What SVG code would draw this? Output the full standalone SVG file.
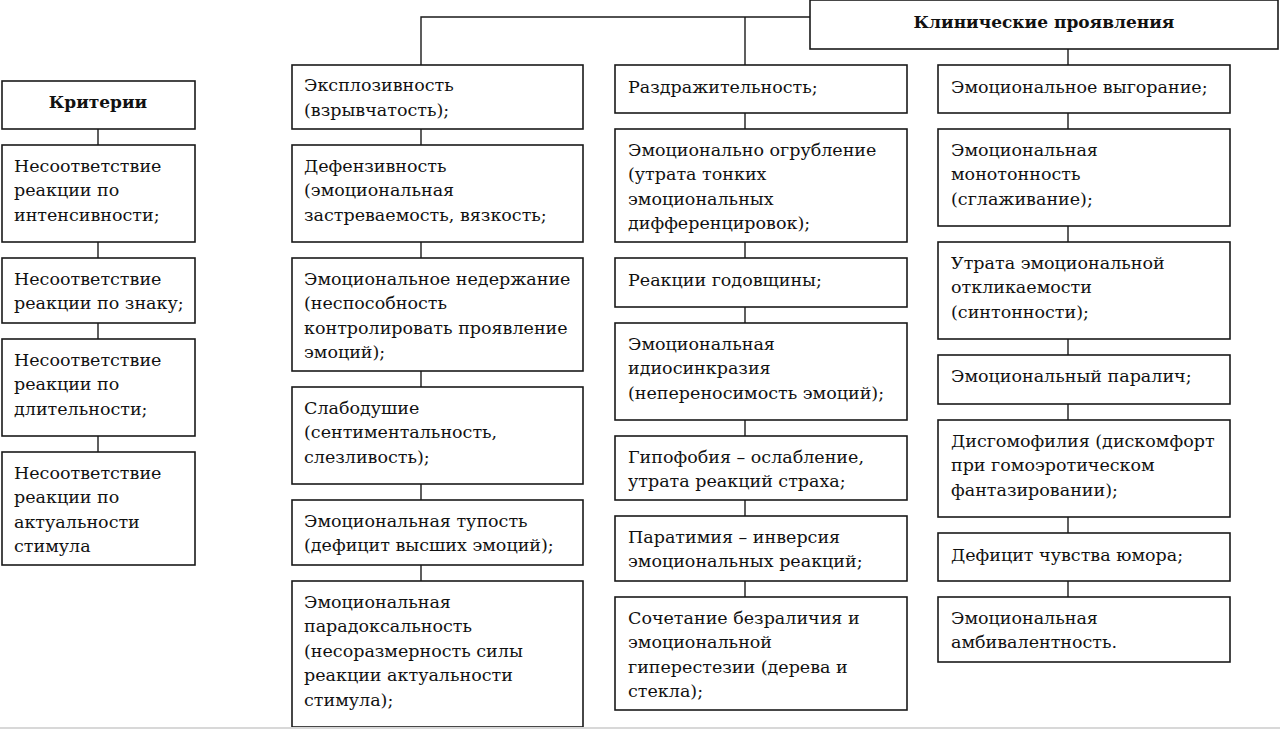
<svg xmlns="http://www.w3.org/2000/svg" width="1280" height="729" viewBox="0 0 1280 729">
<style>
.b{fill:#fff;stroke:#1a1a1a;stroke-width:1.6}
.c{fill:none;stroke:#1a1a1a;stroke-width:1.4}
.t{font-family:'DejaVu Serif', 'Liberation Serif', serif;font-size:17.5px;fill:#111}
.h{font-family:'DejaVu Serif', 'Liberation Serif', serif;font-size:17px;font-weight:bold;fill:#111;text-anchor:middle}
</style>
<rect x="0" y="0" width="1280" height="729" fill="#fff"/>
<g id="connectors">
<polyline class="c" points="421,65 421,17 810,17"/>
<line class="c" x1="745" y1="17" x2="745" y2="65"/>
<line class="c" x1="1068" y1="49" x2="1068" y2="65"/>
<line class="c" x1="98" y1="129" x2="98" y2="145"/>
<line class="c" x1="98" y1="242" x2="98" y2="258"/>
<line class="c" x1="98" y1="323" x2="98" y2="339"/>
<line class="c" x1="98" y1="436" x2="98" y2="452"/>
<line class="c" x1="421" y1="129" x2="421" y2="145"/>
<line class="c" x1="421" y1="242" x2="421" y2="258"/>
<line class="c" x1="421" y1="371" x2="421" y2="387"/>
<line class="c" x1="421" y1="484" x2="421" y2="500"/>
<line class="c" x1="421" y1="565" x2="421" y2="581"/>
<line class="c" x1="745" y1="113" x2="745" y2="129"/>
<line class="c" x1="745" y1="242" x2="745" y2="258"/>
<line class="c" x1="745" y1="307" x2="745" y2="323"/>
<line class="c" x1="745" y1="420" x2="745" y2="436"/>
<line class="c" x1="745" y1="500" x2="745" y2="516"/>
<line class="c" x1="745" y1="581" x2="745" y2="597"/>
<line class="c" x1="1068" y1="113" x2="1068" y2="129"/>
<line class="c" x1="1068" y1="226" x2="1068" y2="242"/>
<line class="c" x1="1068" y1="339" x2="1068" y2="355"/>
<line class="c" x1="1068" y1="404" x2="1068" y2="420"/>
<line class="c" x1="1068" y1="517" x2="1068" y2="533"/>
<line class="c" x1="1068" y1="581" x2="1068" y2="597"/>
</g>
<g id="clinical">
<rect class="b" x="810" y="0" width="468" height="49"/>
<text class="h" x="1044" y="28">Клинические проявления</text>
</g>
<g id="criteria">
<rect class="b" x="2" y="81" width="193" height="48"/>
<text class="h" x="98" y="108">Критерии</text>
</g>
<g id="crit1"><rect class="b" x="2" y="145" width="193" height="97"/>
<text class="t" x="14" y="172">Несоответствие</text><text class="t" x="14" y="196">реакции по</text><text class="t" x="14" y="221">интенсивности;</text></g>
<g id="crit2"><rect class="b" x="2" y="258" width="193" height="65"/>
<text class="t" x="14" y="285">Несоответствие</text><text class="t" x="14" y="309">реакции по знаку;</text></g>
<g id="crit3"><rect class="b" x="2" y="339" width="193" height="97"/>
<text class="t" x="14" y="366">Несоответствие</text><text class="t" x="14" y="390">реакции по</text><text class="t" x="14" y="415">длительности;</text></g>
<g id="crit4"><rect class="b" x="2" y="452" width="193" height="113"/>
<text class="t" x="14" y="479">Несоответствие</text><text class="t" x="14" y="503">реакции по</text><text class="t" x="14" y="528">актуальности</text><text class="t" x="14" y="552">стимула</text></g>

<g id="c2n1"><rect class="b" x="292" y="65" width="291" height="64"/>
<text class="t" x="304" y="91">Эксплозивность</text><text class="t" x="304" y="116">(взрывчатость);</text></g>
<g id="c2n2"><rect class="b" x="292" y="145" width="291" height="97"/>
<text class="t" x="304" y="172">Дефензивность</text><text class="t" x="304" y="196">(эмоциональная</text><text class="t" x="304" y="221">застреваемость, вязкость;</text></g>
<g id="c2n3"><rect class="b" x="292" y="258" width="291" height="113"/>
<text class="t" x="304" y="285">Эмоциональное недержание</text><text class="t" x="304" y="309">(неспособность</text><text class="t" x="304" y="334">контролировать проявление</text><text class="t" x="304" y="358">эмоций);</text></g>
<g id="c2n4"><rect class="b" x="292" y="387" width="291" height="97"/>
<text class="t" x="304" y="414">Слабодушие</text><text class="t" x="304" y="438">(сентиментальность,</text><text class="t" x="304" y="463">слезливость);</text></g>
<g id="c2n5"><rect class="b" x="292" y="500" width="291" height="65"/>
<text class="t" x="304" y="527">Эмоциональная тупость</text><text class="t" x="304" y="551">(дефицит высших эмоций);</text></g>
<g id="c2n6"><rect class="b" x="292" y="581" width="291" height="146"/>
<text class="t" x="304" y="608">Эмоциональная</text><text class="t" x="304" y="632">парадоксальность</text><text class="t" x="304" y="657">(несоразмерность силы</text><text class="t" x="304" y="681">реакции актуальности</text><text class="t" x="304" y="706">стимула);</text></g>

<g id="c3n1"><rect class="b" x="615" y="65" width="292" height="48"/>
<text class="t" x="628" y="93">Раздражительность;</text></g>
<g id="c3n2"><rect class="b" x="615" y="129" width="292" height="113"/>
<text class="t" x="628" y="156">Эмоционально огрубление</text><text class="t" x="628" y="180">(утрата тонких</text><text class="t" x="628" y="205">эмоциональных</text><text class="t" x="628" y="229">дифференцировок);</text></g>
<g id="c3n3"><rect class="b" x="615" y="258" width="292" height="49"/>
<text class="t" x="628" y="286">Реакции годовщины;</text></g>
<g id="c3n4"><rect class="b" x="615" y="323" width="292" height="97"/>
<text class="t" x="628" y="350">Эмоциональная</text><text class="t" x="628" y="374">идиосинкразия</text><text class="t" x="628" y="399">(непереносимость эмоций);</text></g>
<g id="c3n5"><rect class="b" x="615" y="436" width="292" height="64"/>
<text class="t" x="628" y="463">Гипофобия – ослабление,</text><text class="t" x="628" y="487">утрата реакций страха;</text></g>
<g id="c3n6"><rect class="b" x="615" y="516" width="292" height="65"/>
<text class="t" x="628" y="543">Паратимия – инверсия</text><text class="t" x="628" y="567">эмоциональных реакций;</text></g>
<g id="c3n7"><rect class="b" x="615" y="597" width="292" height="113"/>
<text class="t" x="628" y="624">Сочетание безраличия и</text><text class="t" x="628" y="648">эмоциональной</text><text class="t" x="628" y="673">гиперестезии (дерева и</text><text class="t" x="628" y="697">стекла);</text></g>

<g id="c4n1"><rect class="b" x="938" y="65" width="292" height="48"/>
<text class="t" x="951" y="93">Эмоциональное выгорание;</text></g>
<g id="c4n2"><rect class="b" x="938" y="129" width="292" height="97"/>
<text class="t" x="951" y="156">Эмоциональная</text><text class="t" x="951" y="180">монотонность</text><text class="t" x="951" y="205">(сглаживание);</text></g>
<g id="c4n3"><rect class="b" x="938" y="242" width="292" height="97"/>
<text class="t" x="951" y="269">Утрата эмоциональной</text><text class="t" x="951" y="293">откликаемости</text><text class="t" x="951" y="318">(синтонности);</text></g>
<g id="c4n4"><rect class="b" x="938" y="355" width="292" height="49"/>
<text class="t" x="951" y="382">Эмоциональный паралич;</text></g>
<g id="c4n5"><rect class="b" x="938" y="420" width="292" height="97"/>
<text class="t" x="951" y="447">Дисгомофилия (дискомфорт</text><text class="t" x="951" y="471">при гомоэротическом</text><text class="t" x="951" y="496">фантазировании);</text></g>
<g id="c4n6"><rect class="b" x="938" y="533" width="292" height="48"/>
<text class="t" x="951" y="561">Дефицит чувства юмора;</text></g>
<g id="c4n7"><rect class="b" x="938" y="597" width="292" height="65"/>
<text class="t" x="951" y="624">Эмоциональная</text><text class="t" x="951" y="648">амбивалентность.</text></g>
<rect x="0" y="727" width="1280" height="2" fill="#d8d8d8"/>
</svg>
